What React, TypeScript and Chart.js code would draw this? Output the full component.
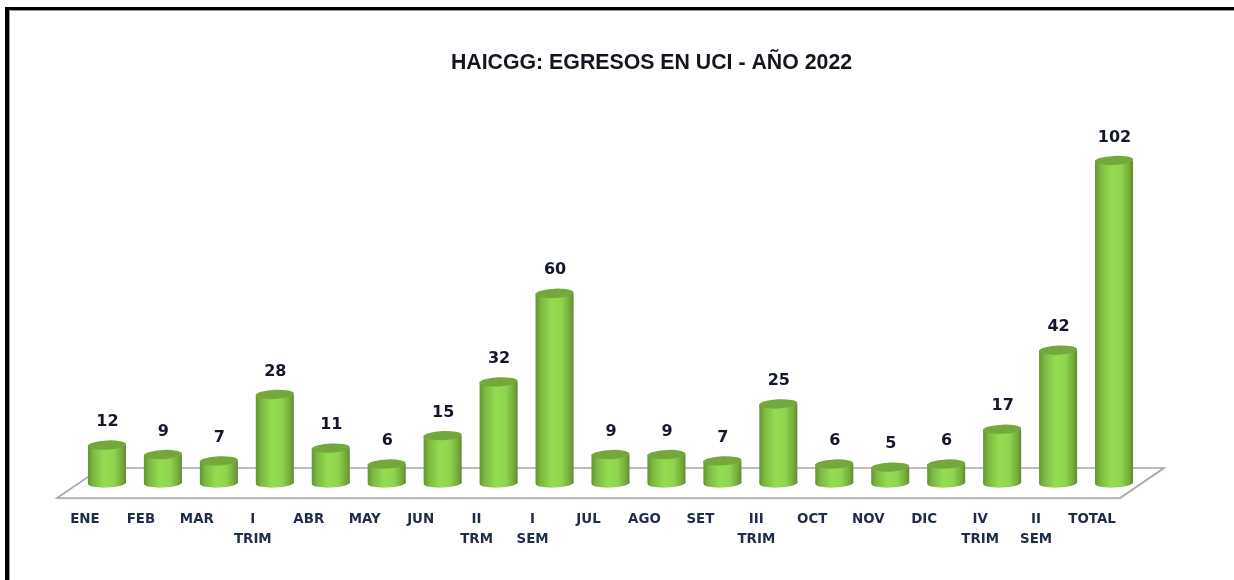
import React, { useEffect, useRef } from "react";
import { Chart, registerables } from "chart.js";

Chart.register(...registerables);

const categories: (string | string[])[] = [
  "ENE", "FEB", "MAR", ["I", "TRIM"], "ABR", "MAY", "JUN", ["II", "TRM"], ["I", "SEM"],
  "JUL", "AGO", "SET", ["III", "TRIM"], "OCT", "NOV", "DIC", ["IV", "TRIM"], ["II", "SEM"], "TOTAL",
];
const egresos = [12, 9, 7, 28, 11, 6, 15, 32, 60, 9, 9, 7, 25, 6, 5, 6, 17, 42, 102];
const chartTitle = "HAICGG: EGRESOS EN UCI - AÑO 2022";

const CAP_RY = 4.6;
const TILT = -0.045;

function bodyGradient(ctx: CanvasRenderingContext2D, cx: number, w: number) {
  const g = ctx.createLinearGradient(cx - w / 2, 0, cx + w / 2, 0);
  g.addColorStop(0, "#64952f");
  g.addColorStop(0.14, "#7db842");
  g.addColorStop(0.42, "#93dc52");
  g.addColorStop(0.68, "#8fd64f");
  g.addColorStop(0.9, "#74ab3b");
  g.addColorStop(1, "#5f8c2d");
  return g;
}

const floorPlugin = {
  id: "floor",
  beforeDatasetsDraw(chart: any) {
    const { ctx, chartArea: a } = chart;
    const base = chart.scales.y.getPixelForValue(0);
    const path = () => {
      ctx.beginPath();
      ctx.moveTo(a.left - 22, base + 15);
      ctx.lineTo(a.right - 22, base + 15);
      ctx.lineTo(a.right + 22, base - 15);
      ctx.lineTo(a.left + 22, base - 15);
      ctx.closePath();
    };
    ctx.save();
    ctx.shadowColor = "rgba(0,0,0,0.2)";
    ctx.shadowBlur = 2;
    ctx.shadowOffsetY = 1;
    path();
    ctx.fillStyle = "#ffffff";
    ctx.fill();
    ctx.shadowColor = "transparent";
    ctx.strokeStyle = "#a6a6a6";
    ctx.lineWidth = 1.6;
    path();
    ctx.stroke();
    ctx.restore();
  },
};

const cylinderPlugin = {
  id: "cylinder",
  afterDatasetsDraw(chart: any) {
    const { ctx } = chart;
    const meta = chart.getDatasetMeta(0);
    meta.data.forEach((bar: any, i: number) => {
      const { x, y, base, width } = bar.getProps(["x", "y", "base", "width"], true);
      ctx.save();
      ctx.beginPath();
      ctx.ellipse(x, base, width / 2, CAP_RY, TILT, 0, Math.PI * 2);
      ctx.fillStyle = bodyGradient(ctx, x, width);
      ctx.fill();
      ctx.beginPath();
      ctx.ellipse(x, y, width / 2, CAP_RY, TILT, 0, Math.PI * 2);
      ctx.fillStyle = "#74a83c";
      ctx.fill();
      ctx.fillStyle = "#14182c";
      ctx.font = "bold 16px 'DejaVu Sans'";
      ctx.textAlign = "center";
      ctx.textBaseline = "middle";
      ctx.fillText(String(egresos[i]), x + 0.5, y - 23);
      ctx.restore();
    });
  },
};

const titleShiftPlugin = {
  id: "titleShift",
  afterLayout(chart: any) {
    if (chart.titleBlock) {
      chart.titleBlock.left += 41;
      chart.titleBlock.right += 41;
    }
  },
};

export default function App() {
  const ref = useRef<HTMLCanvasElement>(null);
  useEffect(() => {
    const chart = new Chart(ref.current!, {
      type: "bar",
      data: {
        labels: categories,
        datasets: [
          {
            data: egresos,
            barPercentage: 0.68,
            categoryPercentage: 1,
            borderWidth: 0,
            backgroundColor: (c: any) => {
              const s = c.chart.scales.x;
              const px = s && c.dataIndex !== undefined ? s.getPixelForValue(c.dataIndex) : NaN;
              if (!Number.isFinite(px)) return "#8fd64f";
              return bodyGradient(c.chart.ctx, px, 38);
            },
          },
        ],
      },
      options: {
        animation: false,
        responsive: false,
        devicePixelRatio: 1,
        layout: { padding: { left: 79, right: 92, top: 0, bottom: 11 } },
        plugins: {
          legend: { display: false },
          tooltip: { enabled: false },
          title: {
            display: true,
            text: chartTitle,
            color: "#14151f",
            font: { family: "'Liberation Sans'", size: 21.3, weight: "bold", lineHeight: 1.2 },
            padding: { top: 50, bottom: 28 },
          },
        },
        scales: {
          x: {
            grid: { display: false },
            border: { display: false },
            ticks: {
              autoSkip: false,
              maxRotation: 0,
              minRotation: 0,
              labelOffset: -22,
              padding: 19,
              color: "#1f2d4a",
              font: { family: "'DejaVu Sans'", size: 13.4, weight: "bold", lineHeight: 20 / 13.4 },
            },
          },
          y: { display: false, min: 0, max: 120 },
        },
      },
      plugins: [titleShiftPlugin, floorPlugin, cylinderPlugin],
    } as any);
    return () => chart.destroy();
  }, []);

  return (
    <div style={{ position: "absolute", left: 0, top: 0, width: 1234, height: 580, overflow: "hidden", background: "#fff" }}>
      <div
        style={{
          position: "absolute",
          left: 5,
          top: 7,
          width: 1226,
          height: 600,
          borderLeft: "4px solid #000",
          borderTop: "3px solid #000",
          borderRight: "1px solid #111",
          boxShadow: "inset 1px 1px 0 #999",
          boxSizing: "content-box",
        }}
      />
      <canvas
        ref={ref}
        width={1234}
        height={580}
        style={{ position: "absolute", left: 0, top: 0, width: 1234, height: 580, filter: "blur(0.4px)" }}
      />
    </div>
  );
}
